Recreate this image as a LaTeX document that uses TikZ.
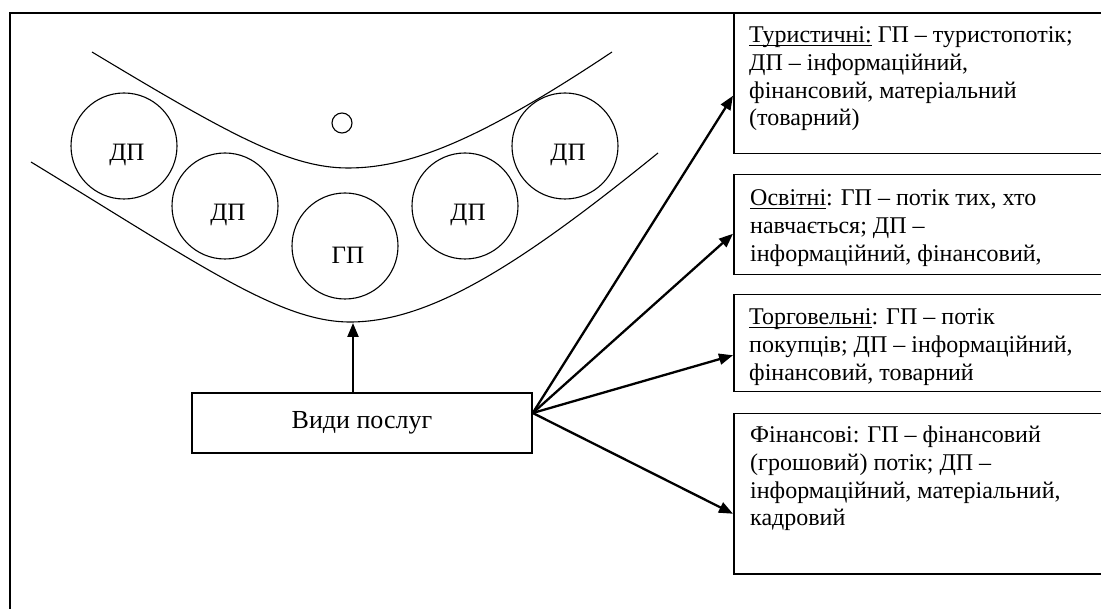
\documentclass[tikz,border=0pt]{standalone}
\usepackage{fontspec}
\setmainfont{Liberation Serif}
\usetikzlibrary{arrows.meta,positioning}
\newcommand\undl[1]{\setbox0\hbox{#1}\rlap{\rule[-3pt]{\wd0}{1.2pt}}\box0\relax}

\begin{document}
\begin{tikzpicture}[x=1pt,y=-1pt,
  flow/.style={-{Triangle[length=14pt,width=11pt]},line width=2.3pt},
  bowl/.style={line width=1.1pt},
  stream/.style={circle,draw,line width=1.1pt,minimum size=106pt,inner sep=0pt},
  tag/.style={xshift=3pt,yshift=-9pt,font=\fontsize{25}{28}\selectfont},
  kind/.style={draw,line width=1.5pt,anchor=north west,minimum width=380pt,inner sep=0pt},
  kindtext/.style={anchor=base west,align=left,inner sep=0pt,font=\fontsize{24}{27.6}\selectfont}]
\useasboundingbox (0,0) rectangle (1101,609);
\clip (0,0) rectangle (1101,609);
% frame
\draw [line width=2.2pt] (10,620) -- (10,13) -- (1110,13);
% bowl
\draw [bowl] (92,52) .. controls (230,135) and (290,168) .. (348,168)
  .. controls (410,168) and (480,140) .. (612,52);
\draw [bowl] (31,162) .. controls (200,265) and (280,322) .. (350,322)
  .. controls (430,322) and (520,265) .. (658,153);
\draw [bowl] (342,123) circle (10pt);
% streams
\node [stream,label={[tag]center:ДП}] (d1) at (124,146) {};
\node [stream,label={[tag]center:ДП}] (d2) at (225,206) {};
\node [stream,label={[tag]center:ГП}] (g) at (345,246) {};
\node [stream,label={[tag]center:ДП}] (d3) at (465,206) {};
\node [stream,label={[tag]center:ДП}] (d4) at (565,146) {};
% services
\node [draw,line width=1.5pt,minimum width=340pt,minimum height=60pt,
  font=\fontsize{26}{30}\selectfont] (service) at (362,423) {Види послуг};
\coordinate (trough) at (353,323);
\draw [flow] (service.north -| trough) -- (trough);
% kinds
\node [kind,minimum height=140pt] (tour) at (733,13) {};
\node [kind,minimum height=100pt] (edu) at (733,174) {};
\node [kind,minimum height=97pt] (trade) at (733,294) {};
\node [kind,minimum height=160pt] (fin) at (733,413) {};
\node [kindtext] (tourtxt) at ([shift={(16pt,-112.8pt)}]tour.north west)
  {\undl{Туристичні:} ГП – туристопотік;\\ДП – інформаційний,\\фінансовий, матеріальний\\(товарний)};
\node [kindtext] (edutxt) at ([shift={(17pt,-87.2pt)}]edu.north west)
  {\undl{Освітні}: ГП – потік тих, хто\\навчається; ДП –\\інформаційний, фінансовий,};
\node [kindtext] (tradetxt) at ([shift={(16pt,-86.2pt)}]trade.north west)
  {\undl{Торговельні}: ГП – потік\\покупців; ДП – інформаційний,\\фінансовий, товарний};
\node [kindtext] (fintxt) at ([shift={(17pt,-112.8pt)}]fin.north west)
  {Фінансові: ГП – фінансовий\\(грошовий) потік; ДП –\\інформаційний, матеріальний,\\кадровий};
% fan
\coordinate (fan) at ([yshift=10pt]service.east);
\draw [flow] (fan) -- ([yshift=-12pt]tour.west);
\draw [flow] (fan) -- ([yshift=-9pt]edu.west);
\draw [flow] (fan) -- ([yshift=-12pt]trade.west);
\draw [flow] (fan) -- ([yshift=-20pt]fin.west);
\end{tikzpicture}
\end{document}
